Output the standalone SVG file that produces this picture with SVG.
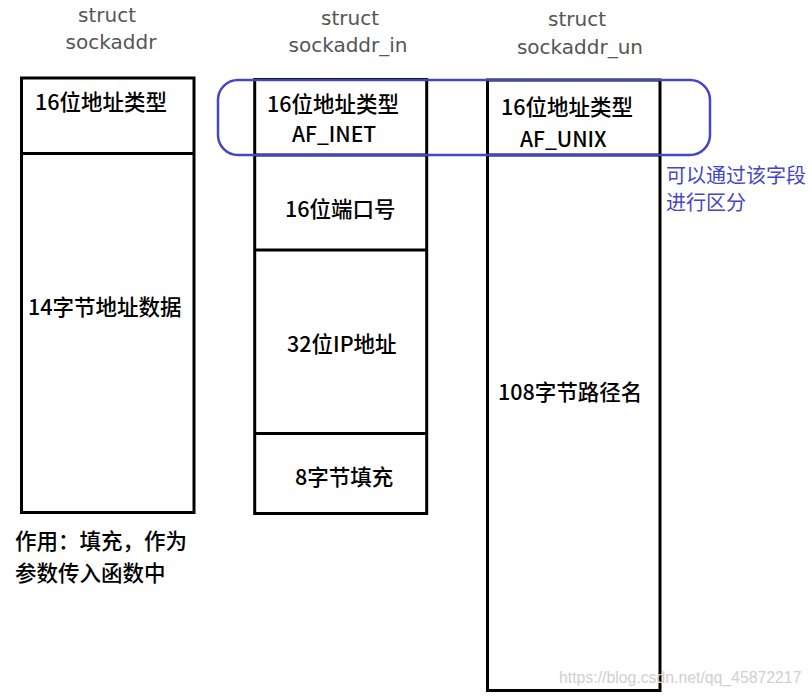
<svg xmlns="http://www.w3.org/2000/svg" width="812" height="696" viewBox="0 0 812 696">
<style>
.box{fill:#fff;stroke:#000;stroke-width:3}
.div{stroke:#000;stroke-width:3}
.title{font-family:"DejaVu Sans",sans-serif;font-size:20px;fill:#555;text-anchor:middle}
.lbl{font-family:"Noto Sans CJK SC","Noto Sans",sans-serif;font-size:21.5px;font-weight:500;fill:#000}
.lat{font-size:21px}
.note{font-family:"Noto Sans CJK SC",sans-serif;font-size:20px;fill:#4646c4}
.wm{font-family:"Liberation Sans",sans-serif;font-size:15.8px;fill:#d0d0d0}
</style>
<rect width="812" height="696" fill="#fff"/>
<g id="sockaddr">
<text class="title" x="107" y="22">struct</text>
<text class="title" x="111" y="49">sockaddr</text>
<rect class="box" x="21.5" y="78" width="172.5" height="434.5"/>
<line class="div" x1="21.5" y1="153.5" x2="194" y2="153.5"/>
<text class="lbl" x="35" y="110">16位地址类型</text>
<text class="lbl" x="28" y="315">14字节地址数据</text>
</g>
<g id="sockaddr_in">
<text class="title" x="350" y="25">struct</text>
<text class="title" x="348" y="52">sockaddr_in</text>
<rect class="box" x="254.7" y="79.5" width="172" height="434"/>
<line class="div" x1="254.7" y1="155" x2="426.7" y2="155"/>
<line class="div" x1="254.7" y1="250" x2="426.7" y2="250"/>
<line class="div" x1="254.7" y1="433.5" x2="426.7" y2="433.5"/>
<text class="lbl" x="267" y="112">16位地址类型</text>
<text class="lbl lat" x="292" y="142">AF_INET</text>
<text class="lbl" x="285" y="217">16位端口号</text>
<text class="lbl" x="287" y="352">32位IP地址</text>
<text class="lbl" x="295" y="485">8字节填充</text>
</g>
<g id="sockaddr_un">
<text class="title" x="577" y="26">struct</text>
<text class="title" x="580" y="54">sockaddr_un</text>
<rect class="box" x="487.5" y="80" width="172.5" height="610.5"/>
<line class="div" x1="487.5" y1="155" x2="660" y2="155"/>
<text class="lbl" x="501" y="115">16位地址类型</text>
<text class="lbl lat" x="520" y="147">AF_UNIX</text>
<text class="lbl" x="498" y="400">108字节路径名</text>
</g>
<g id="connectors">
<rect x="218" y="80" width="492" height="75" rx="20" ry="20" fill="none" stroke="#4646c4" stroke-width="2.5"/>
</g>
<g id="note">
<text class="note" x="666" y="183">可以通过该字段</text>
<text class="note" x="666" y="210">进行区分</text>
</g>
<g id="usage">
<text class="lbl" x="15" y="549">作用：填充，作为</text>
<text class="lbl" x="15" y="581">参数传入函数中</text>
</g>
<text class="wm" x="559" y="683">https://blog.csdn.net/qq_45872217</text>
</svg>
